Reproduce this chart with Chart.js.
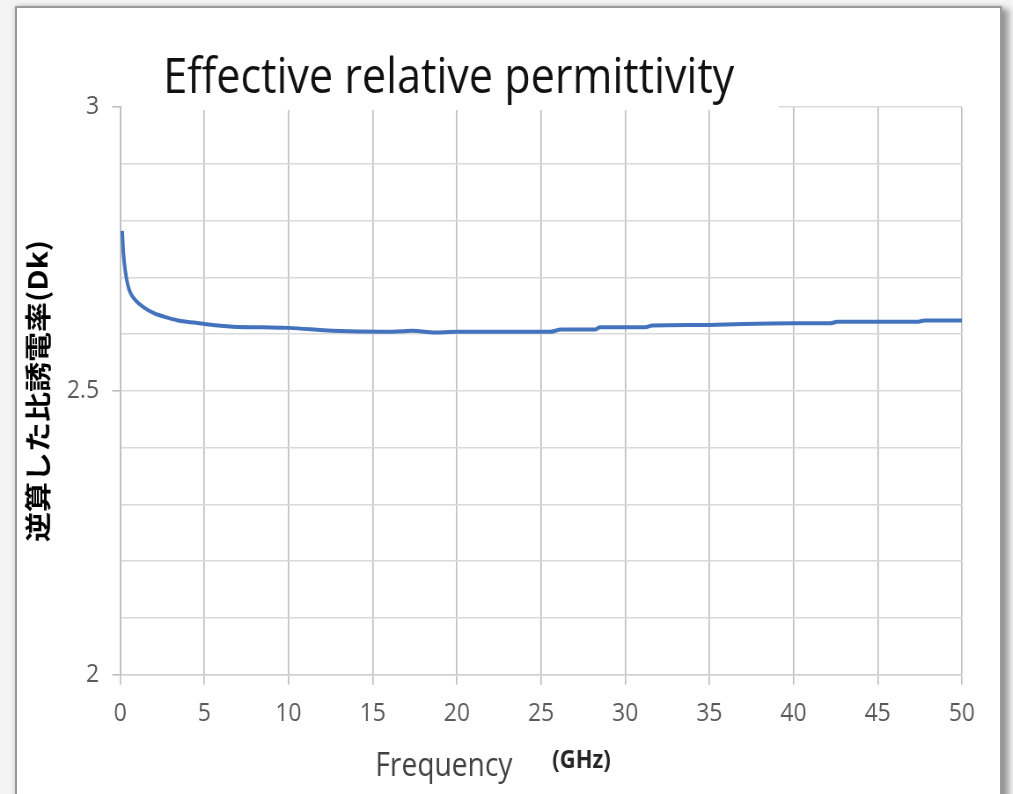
<!DOCTYPE html>
<html>
<head>
<meta charset="utf-8">
<title>Effective relative permittivity</title>
<script src="https://cdn.jsdelivr.net/npm/chart.js@4.4.0/dist/chart.umd.min.js"></script>
<style>
  html, body { margin: 0; padding: 0; width: 1013px; height: 794px; overflow: hidden; background: #f4f4f4; }
  #frame {
    position: absolute; left: 15px; top: 6px; width: 983px; height: 820px;
    background: #fff; border: 2px solid #9a9a9a;
    box-shadow: 0 0 5px rgba(0,0,0,0.18), 7px 3px 6px rgba(0,0,0,0.35);
  }
  /* the source picture is squeezed sideways, so the chart is drawn wider and scaled back */
  #wrap {
    position: absolute; left: 0; top: 0; width: 1151px; height: 794px;
    transform: scaleX(0.88); transform-origin: 0 0;
  }
</style>
</head>
<body>
<div id="frame"></div>
<div id="wrap"><canvas id="permChart"></canvas></div>
<script>
var chartTitle = "Effective relative permittivity";
var xTitle = "Frequency";
var xUnit = "(GHz)";
var yTitle = "逆算した比誘電率(Dk)";
var yLabelTicks = [2, 2.5, 3];

// frequency (GHz) and back-calculated Dk
var freqGHz = [0.12, 0.2, 0.3, 0.45, 0.6, 0.9, 1.4, 2.0, 2.8, 3.6, 4.5, 5.5, 6.7, 8.5, 10,
    12.6, 15.6, 16.8, 17.3, 17.8, 18.6, 20, 22.5, 25.5, 26.2, 28.2, 28.5, 31.2, 31.6,
    34.4, 37, 40, 42.2, 42.6, 47.4, 47.8, 50];
var dk = [2.782, 2.739, 2.712, 2.687, 2.673, 2.660, 2.647, 2.637, 2.629, 2.623, 2.620, 2.616, 2.613, 2.612, 2.611,
    2.606, 2.604, 2.605, 2.606, 2.605, 2.603, 2.604, 2.604, 2.604, 2.608, 2.608, 2.612, 2.612, 2.615,
    2.616, 2.618, 2.619, 2.619, 2.622, 2.622, 2.624, 2.624];

var points = freqGHz.map(function(f, i) { return { x: f, y: dk[i] }; });

function isLabelTick(v) {
    return yLabelTicks.some(function(t) { return Math.abs(t - v) < 1e-6; });
}

// title and x-axis caption are placed like the Excel original, not centred
var excelText = {
    id: 'excelText',
    afterDraw: function(chart) {
        var ctx = chart.ctx, area = chart.chartArea;
        ctx.save();
        ctx.font = '49px "Open Sans"';
        var tw = ctx.measureText(chartTitle).width;
        ctx.fillStyle = '#ffffff';
        ctx.fillRect(area.left + 1.5, area.top - 60, tw + 98, 63);
        ctx.fillStyle = '#111111';
        ctx.textBaseline = 'alphabetic';
        ctx.textAlign = 'left';
        ctx.fillText(chartTitle, area.left + 49, area.top - 14);

        ctx.font = '32px "Open Sans"';
        ctx.fillStyle = '#404040';
        ctx.fillText(xTitle, area.left + 290, area.bottom + 101);
        ctx.font = 'bold 25px "Open Sans"';
        ctx.fillStyle = '#262626';
        ctx.fillText(xUnit, area.left + 491, area.bottom + 93);
        ctx.restore();
    }
};

var ctx = document.getElementById('permChart').getContext('2d');
var myChart = new Chart(ctx, {
    type: 'line',
    data: {
        datasets: [{
            label: 'Dk',
            data: points,
            borderColor: '#4473be',
            borderWidth: 4,
            pointRadius: 0,
            cubicInterpolationMode: 'monotone',
            fill: false
        }]
    },
    options: {
        responsive: true,
        maintainAspectRatio: false,
        animation: false,
        layout: {
            padding: { left: 15, right: 58, top: 107, bottom: 52 }
        },
        plugins: {
            legend: { display: false },
            title: { display: false },
            tooltip: { enabled: false }
        },
        scales: {
            x: {
                type: 'linear',
                min: 0,
                max: 50,
                ticks: {
                    stepSize: 5,
                    padding: 13,
                    color: '#595959',
                    font: { family: 'Open Sans', size: 26 }
                },
                grid: {
                    color: '#bdbdbd',
                    lineWidth: 1.6,
                    tickLength: 10,
                    tickColor: '#bdbdbd'
                },
                border: { color: '#d0d0d0', width: 1.6 }
            },
            y: {
                min: 2,
                max: 3,
                ticks: {
                    stepSize: 0.1,
                    padding: 15,
                    color: '#595959',
                    font: { family: 'Open Sans', size: 26 },
                    callback: function(value) {
                        return isLabelTick(value) ? String(Math.round(value * 10) / 10) : '';
                    }
                },
                grid: {
                    color: '#d9d9d9',
                    lineWidth: 1.6,
                    tickLength: 9,
                    tickColor: function(c) {
                        return c.tick && isLabelTick(c.tick.value) ? '#bdbdbd' : 'rgba(0,0,0,0)';
                    }
                },
                border: { color: '#bdbdbd', width: 1.8 },
                title: {
                    display: true,
                    text: yTitle,
                    color: '#000000',
                    font: { family: 'Noto Sans CJK JP', size: 30, weight: 'bold' },
                    padding: { top: 10, bottom: 0 }
                }
            }
        }
    },
    plugins: [excelText]
});
</script>
</body>
</html>
